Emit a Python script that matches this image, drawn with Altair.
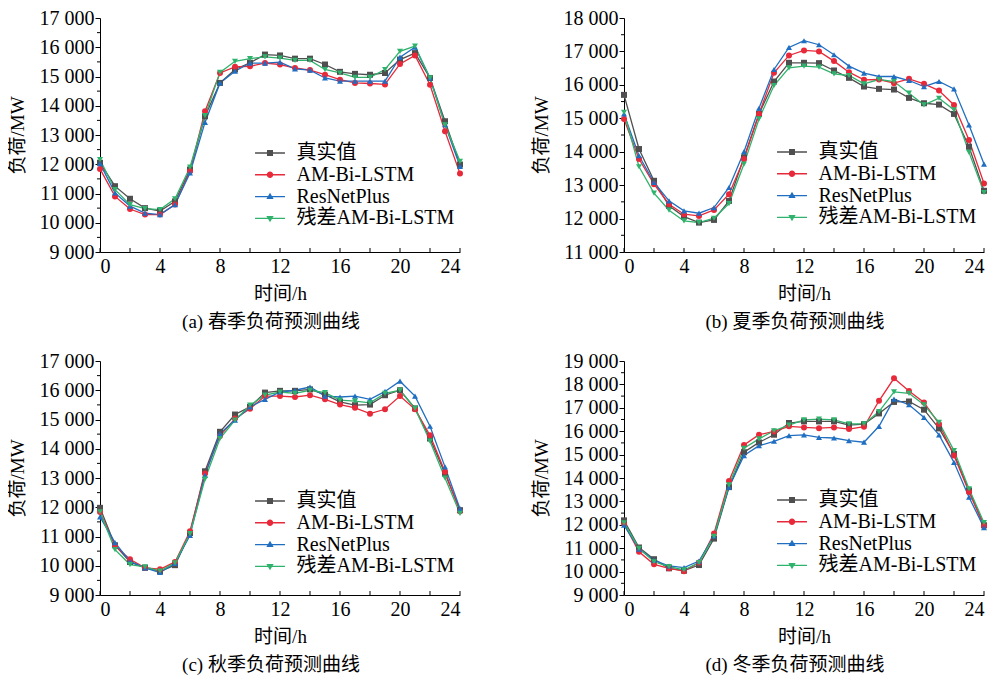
import altair as alt
import pandas as pd

HOURS = list(range(25))
SERIES = ["真实值", "AM-Bi-LSTM", "ResNetPlus", "残差AM-Bi-LSTM"]
COLORS = ["#4F4F4F", "#E8293A", "#1F6EC1", "#2FB36C"]
SHAPES = ["square", "circle", "triangle-up", "triangle-down"]

# (a) spring
SPRING_TRUE = [12050, 11250, 10820, 10500, 10400, 10730, 11820, 13640, 14780, 15240, 15470, 15750, 15720, 15610, 15610, 15410, 15160, 15090, 15060, 15120, 15580, 15800, 14950, 13470, 11990]
SPRING_AM = [11840, 10900, 10470, 10280, 10280, 10620, 11760, 13810, 15120, 15330, 15350, 15460, 15410, 15290, 15220, 15060, 14890, 14780, 14760, 14730, 15430, 15720, 14720, 13130, 11680]
SPRING_RES = [12020, 11020, 10570, 10330, 10280, 10620, 11700, 13430, 14780, 15180, 15460, 15460, 15490, 15260, 15220, 14950, 14840, 14840, 14840, 14840, 15660, 16000, 14950, 13350, 11930]
SPRING_RAM = [12160, 11130, 10620, 10480, 10450, 10820, 11900, 13660, 15140, 15520, 15610, 15670, 15630, 15550, 15550, 15240, 15120, 14970, 14970, 15240, 15860, 16040, 14950, 13350, 12100]

# (b) summer
SUMMER_TRUE = [15700, 14080, 13130, 12380, 12060, 11880, 11960, 12530, 13830, 15130, 16100, 16660, 16660, 16650, 16430, 16210, 15950, 15880, 15860, 15610, 15450, 15410, 15130, 14150, 12830]
SUMMER_AM = [14980, 13780, 13030, 12430, 12130, 12080, 12260, 12730, 13780, 15130, 16360, 16880, 17030, 17000, 16710, 16380, 16150, 16160, 16050, 16180, 16030, 15830, 15400, 14350, 13050]
SUMMER_RES = [15130, 13880, 13080, 12530, 12230, 12160, 12330, 12930, 14000, 15300, 16460, 17120, 17320, 17200, 16900, 16560, 16350, 16250, 16250, 16130, 15950, 16100, 15880, 14800, 13630]
SUMMER_RAM = [15180, 13550, 12760, 12250, 11930, 11880, 12010, 12450, 13630, 14980, 15980, 16510, 16560, 16530, 16330, 16280, 16030, 16160, 16100, 15750, 15400, 15600, 15250, 13980, 12780]

# (c) autumn
AUTUMN_TRUE = [11980, 10700, 10130, 9930, 9810, 10020, 11120, 13230, 14580, 15170, 15430, 15920, 15980, 15980, 16030, 15850, 15600, 15490, 15510, 15830, 16000, 15380, 14350, 13150, 11900]
AUTUMN_AM = [11840, 10680, 10220, 9930, 9880, 10130, 11180, 13150, 14440, 15030, 15370, 15800, 15800, 15770, 15830, 15690, 15510, 15400, 15200, 15350, 15800, 15350, 14460, 13210, 11860]
AUTUMN_RES = [11670, 10790, 10150, 9930, 9770, 10080, 11040, 13090, 14520, 14980, 15430, 15690, 15940, 16000, 16110, 15800, 15770, 15800, 15690, 15960, 16310, 15800, 14770, 13380, 11950]
AUTUMN_RAM = [11840, 10550, 10040, 9960, 9820, 10100, 11100, 12960, 14350, 14980, 15490, 15830, 15940, 15890, 16000, 15920, 15660, 15630, 15570, 15890, 16000, 15380, 14260, 13000, 11790]

# (d) winter
WINTER_TRUE = [12190, 11030, 10530, 10140, 10040, 10280, 11410, 13610, 15100, 15520, 15850, 16350, 16420, 16420, 16420, 16260, 16300, 16760, 17250, 17270, 16920, 16120, 15030, 13470, 11980]
WINTER_AM = [12050, 10850, 10310, 10140, 10020, 10390, 11630, 13870, 15410, 15850, 15990, 16210, 16160, 16130, 16160, 16090, 16190, 17300, 18260, 17720, 17230, 16310, 14960, 13400, 11950]
WINTER_RES = [11980, 10960, 10490, 10240, 10170, 10450, 11530, 13610, 14960, 15380, 15570, 15810, 15840, 15740, 15710, 15600, 15530, 16210, 17370, 17130, 16590, 15840, 14670, 13180, 11880]
WINTER_RAM = [12080, 10990, 10420, 10210, 10070, 10390, 11510, 13710, 15270, 15670, 16020, 16260, 16480, 16520, 16480, 16310, 16310, 16840, 17680, 17620, 17130, 16380, 15170, 13540, 12090]

X_LABELS = [0, 4, 8, 12, 16, 20, 24]
X_TICKS = [0, 2, 4, 6, 8, 10, 12, 14, 16, 18, 20, 22, 24]

CAPTIONS = ["(a) 春季负荷预测曲线", "(b) 夏季负荷预测曲线", "(c) 秋季负荷预测曲线", "(d) 冬季负荷预测曲线"]

FONT = "Liberation Serif, 'Noto Sans CJK SC'"
W, H = 360, 234

LINE = "M-2.14,-0.1H2.14V0.1H-2.14Z "
LEG_PATHS = [
    LINE + "M-0.43,-0.43H0.43V0.43H-0.43Z",
    LINE + "M0.46,0A0.46,0.46,0,1,1,-0.46,0A0.46,0.46,0,1,1,0.46,0Z",
    LINE + "M0,-0.55L0.52,0.35H-0.52Z",
    LINE + "M0,0.55L-0.52,-0.35H0.52Z",
]


def panel(series_values, ymin, ymax, caption, lx, ly):
    rows = []
    for s, vals in zip(SERIES, series_values):
        for h, v in zip(HOURS, vals):
            rows.append({"hour": h, "load": v, "series": s})
    df = pd.DataFrame(rows)

    xenc = alt.X(
        "hour:Q",
        scale=alt.Scale(domain=[0, 24], nice=False),
        axis=alt.Axis(values=X_LABELS, format="d", ticks=False, tickSize=0, grid=False,
                      title="时间/h", labelPadding=4, titlePadding=8),
    )
    yenc = alt.Y(
        "load:Q",
        scale=alt.Scale(domain=[ymin, ymax], nice=False, zero=False),
        axis=alt.Axis(values=list(range(ymin, ymax + 1, 1000)), tickSize=5, grid=False,
                      labelExpr="replace(format(datum.value, ','), ',', ' ')",
                      title="负荷/MW", labelPadding=1, titlePadding=12),
    )
    cscale = alt.Scale(domain=SERIES, range=COLORS)

    lines = alt.Chart(df).mark_line(strokeWidth=1.3).encode(
        x=xenc, y=yenc, color=alt.Color("series:N", scale=cscale, legend=None)
    )
    pts = alt.Chart(df).mark_point(filled=True, size=36, opacity=1).encode(
        x=xenc, y=yenc,
        color=alt.Color("series:N", scale=cscale, legend=None),
        shape=alt.Shape("series:N", scale=alt.Scale(domain=SERIES, range=SHAPES), legend=None),
    )
    leg = alt.Legend(orient="none", legendX=lx, legendY=ly, title=None, padding=0,
                     labelFont=FONT, labelFontSize=20, labelColor="black", labelOffset=16.5,
                     symbolSize=196, symbolStrokeWidth=0, symbolOpacity=1, rowPadding=1.8,
                     labelLimit=400)
    legend_layer = alt.Chart(df).transform_filter("datum.hour < 0").mark_point(filled=True).encode(
        x=xenc, y=yenc,
        color=alt.Color("series:N", scale=cscale, legend=leg),
        shape=alt.Shape("series:N", scale=alt.Scale(domain=SERIES, range=LEG_PATHS), legend=leg),
    )
    xticks = alt.Chart(pd.DataFrame({"hour": X_TICKS})).mark_rule(color="black", strokeWidth=1).encode(
        x=xenc, y=alt.value(H), y2=alt.value(H - 4)
    )
    minor = list(range(ymin + 500, ymax, 1000))
    yticks = alt.Chart(pd.DataFrame({"load": minor})).mark_rule(color="black", strokeWidth=1).encode(
        y=yenc, x=alt.value(0), x2=alt.value(-3)
    )
    return alt.layer(lines, pts, legend_layer, xticks, yticks).resolve_scale(
        shape="independent"
    ).resolve_legend(shape="independent", color="independent").properties(
        width=W, height=H,
        title=alt.TitleParams(text=caption, orient="bottom", font=FONT, fontSize=19,
                              fontWeight="normal", color="black", offset=10, anchor="middle",
                              frame="group", dx=-9),
    )


pa = panel([SPRING_TRUE, SPRING_AM, SPRING_RES, SPRING_RAM], 9000, 17000, CAPTIONS[0], 160, 125)
pb = panel([SUMMER_TRUE, SUMMER_AM, SUMMER_RES, SUMMER_RAM], 11000, 18000, CAPTIONS[1], 158, 124)
pc = panel([AUTUMN_TRUE, AUTUMN_AM, AUTUMN_RES, AUTUMN_RAM], 9000, 17000, CAPTIONS[2], 160, 130)
pd_ = panel([WINTER_TRUE, WINTER_AM, WINTER_RES, WINTER_RAM], 9000, 19000, CAPTIONS[3], 158, 129)

chart = alt.vconcat(
    alt.hconcat(pa, pb, spacing=69),
    alt.hconcat(pc, pd_, spacing=69),
    spacing=19,
).properties(padding=0).configure_view(stroke=None).configure_axis(
    domainColor="black", domainWidth=1, tickColor="black", tickWidth=1,
    labelColor="black", titleColor="black", labelFont=FONT, titleFont=FONT,
    labelFontSize=20, titleFontSize=19, titleFontWeight="normal",
)

chart.save("out.html", embed_options={"renderer": "svg", "actions": False})
